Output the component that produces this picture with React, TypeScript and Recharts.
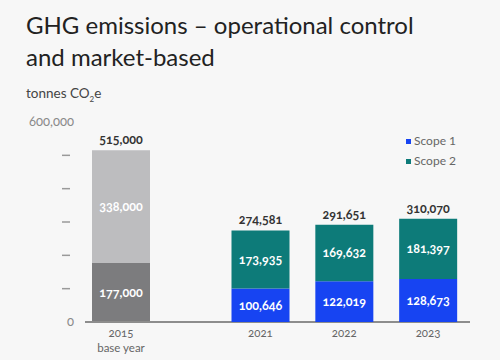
import React from 'react';
import { BarChart, Bar, XAxis, YAxis, LabelList } from 'recharts';

// --- Data ---
const baseYear = ['2015'];
const baseLower = [177000];
const baseUpper = [338000];

const years = ['2021', '2022', '2023'];
const scope1 = [100646, 122019, 128673];
const scope2 = [173935, 169632, 181397];

const yTicks = [0, 100000, 200000, 300000, 400000, 500000, 600000];

// --- Config ---
const COLORS = {
  scope1: '#1744f2',
  scope2: '#0d7b79',
  baseLower: '#7c7c7e',
  baseUpper: '#bdbdbf',
  axis: '#8d8d8d',
  bg: '#f7f7f7',
};
const FONT = 'Lato, "Open Sans", sans-serif';
const W = 500;
const H = 360;
const MARGIN = { top: 122, right: 30, bottom: 0, left: 25 };
const Y_WIDTH = 60;
const X_HEIGHT = 38;

const baseData = baseYear.map((year, i) => ({ year, lower: baseLower[i], upper: baseUpper[i] }));
const yearData = years.map((year, i) => ({ year, scope1: scope1[i], scope2: scope2[i] }));
const baseTotals = baseData.map(d => d.lower + d.upper);
const yearTotals = yearData.map(d => d.scope1 + d.scope2);

const fmt = (v: any) => Number(v).toLocaleString('en-US');

const numStyle: React.CSSProperties = { fontVariantNumeric: 'oldstyle-nums' };

const YTick = ({ x, y, payload }: any) => {
  if (payload.value === 0 || payload.value === 600000) {
    return (
      <text x={x - 11} y={y + 4} textAnchor="end" fontSize={13} fill="#8a8a8a" fontFamily={FONT} style={numStyle}>
        {fmt(payload.value)}
      </text>
    );
  }
  return <line x1={x - 23} x2={x - 15} y1={y} y2={y} stroke="#9a9a9a" strokeWidth={1.5} />;
};

const BaseXTick = ({ x, y, payload }: any) => (
  <text x={x} y={y} textAnchor="middle" fontSize={11.5} fill="#666" fontFamily={FONT} style={numStyle}>
    <tspan x={x} dy={9}>{payload.value}</tspan>
    <tspan x={x} dy={15}>base year</tspan>
  </text>
);

const YearXTick = ({ x, y, payload }: any) => (
  <text x={x} y={y + 9} textAnchor="middle" fontSize={11.5} fill="#666" fontFamily={FONT} style={numStyle}>
    {payload.value}
  </text>
);

const insideLabel = { fill: '#fff', fontSize: 12.5, fontWeight: 700, fontFamily: FONT, style: numStyle };

const totalLabel = (totals: number[]) => (p: any) => (
  <text x={p.x + p.width / 2} y={p.y - 6} textAnchor="middle" fontSize={12.5} fontWeight={700} fill="#333" fontFamily={FONT} style={numStyle}>
    {fmt(totals[p.index])}
  </text>
);

const LEGEND = [
  { name: 'Scope 1', color: COLORS.scope1 },
  { name: 'Scope 2', color: COLORS.scope2 },
];

const App: React.FC = () => (
  <div style={{ position: 'absolute', left: 0, top: 0, width: W, height: H, background: COLORS.bg, fontFamily: FONT, overflow: 'hidden' }}>
    <div style={{ position: 'absolute', left: 26, top: 9, fontSize: 24, lineHeight: '32px', color: '#222' }}>
      GHG emissions – operational control<br />and market-based
    </div>
    <div style={{ position: 'absolute', left: 26, top: 85, fontSize: 13.5, color: '#444' }}>
      tonnes CO<sub style={{ fontSize: 8 }}>2</sub>e
    </div>

    {/* base year chart draws the axes */}
    <div style={{ position: 'absolute', left: 0, top: 0 }}>
      <BarChart width={W} height={H} data={baseData} margin={MARGIN}>
        <YAxis width={Y_WIDTH} domain={[0, 600000]} ticks={yTicks} interval={0} axisLine={false} tickLine={false}
          tickSize={0} tickMargin={0} tick={<YTick />} />
        <XAxis dataKey="year" height={X_HEIGHT} axisLine={{ stroke: COLORS.axis, strokeWidth: 2 }} tickLine={false}
          padding={{ left: 0, right: 313 }} tick={<BaseXTick />} tickMargin={0} />
        <Bar dataKey="lower" stackId="a" fill={COLORS.baseLower} barSize={58} isAnimationActive={false}>
          <LabelList dataKey="lower" position="center" formatter={fmt} {...insideLabel} />
        </Bar>
        <Bar dataKey="upper" stackId="a" fill={COLORS.baseUpper} barSize={58} isAnimationActive={false}>
          <LabelList dataKey="upper" position="center" formatter={fmt} {...insideLabel} />
          <LabelList dataKey="upper" content={totalLabel(baseTotals)} />
        </Bar>
      </BarChart>
    </div>

    {/* reporting years */}
    <div style={{ position: 'absolute', left: 0, top: 0 }}>
      <BarChart width={W} height={H} data={yearData} margin={MARGIN}>
        <YAxis width={Y_WIDTH} domain={[0, 600000]} ticks={yTicks} axisLine={false} tickLine={false} tick={false} />
        <XAxis dataKey="year" height={X_HEIGHT} axisLine={false} tickLine={false} padding={{ left: 133.5, right: 0 }}
          tick={<YearXTick />} tickMargin={0} />
        <Bar dataKey="scope1" name="Scope 1" stackId="a" fill={COLORS.scope1} barSize={58} isAnimationActive={false}>
          <LabelList dataKey="scope1" position="center" formatter={fmt} {...insideLabel} />
        </Bar>
        <Bar dataKey="scope2" name="Scope 2" stackId="a" fill={COLORS.scope2} barSize={58} isAnimationActive={false}>
          <LabelList dataKey="scope2" position="center" formatter={fmt} {...insideLabel} />
          <LabelList dataKey="scope2" content={totalLabel(yearTotals)} />
        </Bar>
      </BarChart>
    </div>

    <div style={{ position: 'absolute', left: 406, top: 131, fontSize: 12, color: '#666', lineHeight: '20px' }}>
      {LEGEND.map(item => (
        <div key={item.name} style={{ display: 'flex', alignItems: 'center' }}>
          <span style={{ width: 5, height: 5, background: item.color, marginRight: 3, display: 'inline-block' }} />
          <span>{item.name}</span>
        </div>
      ))}
    </div>
  </div>
);

export default App;
